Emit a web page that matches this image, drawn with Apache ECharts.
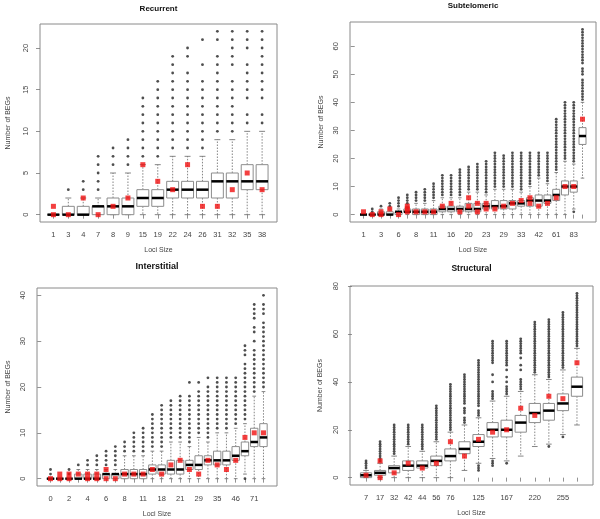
<!DOCTYPE html>
<html><head><meta charset="utf-8">
<script src="https://cdn.jsdelivr.net/npm/echarts@6/dist/echarts.min.js"></script>
<style>html,body{margin:0;padding:0;background:#fff}#c{width:600px;height:519px}</style>
</head><body><div id="c"></div>
<script>
// ---------- Recurrent ----------
const recCats = ['1','3','4','7','8','9','15','19','22','24','26','31','32','35','38'];
const recXLabels = ['1','3','4','7','8','9','15','19','22','24','26','31','32','35','38'];
const recYTicks = [0,5,10,15,20];
// [lower whisker, Q1, median, Q3, upper whisker]
const recStats = [[0,0,0,0,0],[0,0,0,1,2],[0,0,0,1,2],[0,0,1,1,2],[0,0,1,2,5],[0,0,1,2,5],[0,1,2,3,6],[0,1,2,3,6],
  [0,2,3,4,7],[0,2,3,4,7],[0,2,3,4,7],[0,2,4,5,9],[0,2,4,5,9],[0,3,4,6,10],[0,3,4,6,10]];
const recOut = [[],[3],[3,4],[3,4,5,6,7],[6,7,8],[6,7,8,9],[7,8,9,10,11,12,13,14],[7,8,9,10,11,12,13,14,15,16],
  [8,9,10,11,12,13,14,15,16,17,18,19],[8,9,10,11,12,13,14,15,16,17,19,20],[8,9,10,11,12,13,14,15,16,18,21],
  [10,11,12,13,14,15,16,17,18,19,21,22],[10,11,12,13,14,15,16,18,19,20,21,22],[11,12,14,15,16,17,18,20,21,22],
  [11,12,14,15,16,17,18,19,20,21,22]];
const recRed = [[0,1],[0],[2],[0],[1],[2],[6],[4],[3],[6],[1],[1],[3],[5],[3]];

// ---------- Subtelomeric ----------
const subCats = ['1','2','3','5','6','7','8','9','11','13','16','18','20','22','23','26','29','31','33','38','42','50','61','70','83','105'];
const subXLabels = ['1','3','6','8','11','16','20','23','29','33','42','61','83'];
const subYTicks = [0,10,20,30,40,50,60];
const subStats = [[0,0,0,0,0],[0,0,0,0,0],[0,0,0,1,2],[0,0,0,1,2],[0,0,1,1,2],[0,1,1,2,3],[0,0,1,2,4],[0,0,1,2,4],
  [0,0,1,2,5],[0,1,2,3,6],[0,1,2,3,6],[0,1,2,3,6],[0,1,2,4,8],[0,1,2,4,8],[0,2,3,4,7],[0,2,3,5,9],[0,2,3,5,9],
  [0,2,4,5,9],[0,3,4,5,8],[0,3,5,6,10],[0,3,5,7,13],[0,4,5,7,11],[0,5,7,9,15],[0,7,10,12,19],[2,8,10,12,18],[13,25,28,31,40]];
const subOut = [[],[1,2],[3],[3,4],[3,4,5,6],[4,5,6,7],[5,6,7,8],[5,6,7,8,9],[6,7,8,9,10,11],
  [7,8,9,10,11,12,13,14],[7,8,9,10,11,12,13,14],[7,8,9,10,11,12,13,14,15,16],[9,10,11,12,13,14,15,16,17],
  [9,10,11,12,13,14,15,16,17,18],[8,9,10,11,12,13,14,15,16,17,18,19],[10,11,12,13,14,15,16,17,18,19,20,21,22],
  [10,11,12,13,14,15,16,17,18,19,20,21],[10,11,12,13,14,15,16,17,18,19,20,21,22],[9,10,11,12,13,14,15,16,17,18,19,20,21,22],
  [11,12,13,14,15,16,17,18,19,20,21,22],[14,15,16,17,18,19,20,21,22],[12,13,14,15,16,17,18,19,20,21,22],
  [16,17,18,19,20,21,22,23,24,25,26,27,28,29,30,31,32,33,34],
  [20,21,22,23,24,25,26,27,28,29,30,31,32,33,34,35,36,37,38,39,40],
  [1,19,20,21,22,23,24,25,26,27,28,29,30,31,32,33,34,35,36,37,38,39,40],
  [41,42,43,44,45,46,47,48,50,51,52,54,55,56,57,58,59,60,61,62,63,64,65,66]];
const subRed = [[1],[0],[0,1],[2],[0],[1,2,3],[1],[1],[1],[3],[4],[1],[6,3],[4,1],[4,2],[2],[3],[4],[5],[6,4],[3],[4],[6],[10],[10],[34]];

// ---------- Interstitial ----------
const intCats = ['0','1','2','3','4','5','6','7','8','10','11','14','18','19','21','25','29','32','35','40','46','55','71','95'];
const intXLabels = ['0','2','4','6','8','11','18','21','29','35','46','71'];
const intYTicks = [0,10,20,30,40];
const intStats = [[0,0,0,0,0],[0,0,0,0,0],[0,0,0,0,0],[0,0,0,1,2],[0,0,0,1,2],[0,0,0,1,2],[0,0,1,1,2],[0,0,1,1,2],
  [0,0,1,2,5],[0,0,1,2,5],[0,0,1,2,5],[0,1,2,3,6],[0,1,2,3,6],[0,1,2,4,8],[0,1,2,4,8],[0,2,3,4,7],[0,2,3,5,9],
  [0,3,4,5,8],[0,3,4,6,10],[0,3,4,6,10],[0,4,5,7,11],[1,5,6,8,12],[0,7,8,11,18],[0,7,9,12,19]];
const intOut = [[1,2],[],[1,2],[3],[3,4],[3,4,5],[3,4,5,6],[3,4,5,6,7],[6,7,8],[6,7,8,9,10],[6,7,8,9,10,11],
  [7,8,9,10,11,12,13,14],[7,8,9,10,11,12,13,14,15,16],[9,10,11,12,13,14,15,16,17],[9,10,11,12,13,14,15,16,17,18],
  [8,9,10,11,12,13,14,15,16,17,18,21],[10,11,12,13,14,15,16,17,18,19,21],[9,10,11,12,13,14,15,16,17,18,19,20,22],
  [11,12,13,14,15,16,17,18,19,20,21,22],[11,12,13,14,15,16,17,18,19,20,21,22],[12,13,14,15,16,17,18,19,20,21,22],
  [0,13,14,15,16,17,18,19,20,21,22,23,24,25,27,28,29],
  [19,20,21,22,23,24,25,26,27,28,30,32,33,35,36,37,38],
  [20,21,22,23,24,25,26,27,28,29,30,31,32,33,34,36,37,38,40]];
const intRed = [[0],[1,0],[1,0],[1],[1,0],[1,0],[2,0],[0],[1],[1],[1],[2],[1],[3],[4],[2],[1],[4],[3],[2],[4],[9],[10],[10]];

// ---------- Structural ----------
const strCats = ['7','17','32','42','44','56','76','101','125','146','167','190','220','236','255','300'];
const strXLabels = ['7','17','32','42','44','56','76','125','167','220','255'];
const strYTicks = [0,20,40,60,80];
const strStats = [[0,0,1,2,3],[0,1,2,3,6],[0,2,4,5,9],[0,3,5,7,13],[0,4,5,7,11],[0,5,7,9,15],[0,7,9,12,19],
  [3,10,12,15,22],[6,13,15,18,25],[8,17,20,23,32],[7,17,20,24,34],[9,19,23,26,36],[13,23,27,31,43],
  [14,24,28,31,41],[18,28,31,35,45],[22,34,38,42,54]];
const strOut = [[4,5,6,7],[7,8,9,10,11,12,13,14,15],[10,11,12,13,14,15,16,17,18,19,20,21,22],
  [14,15,16,17,18,19,20,21,22],[12,13,14,15,16,17,18,19,20,21,22],
  [16,17,18,19,20,21,22,23,24,25,26,27,28,29,30],
  [20,21,22,23,24,25,26,27,28,29,30,31,32,33,34,35,36,37,38,39],
  [23,24,25,27,28,29,31,32,33,34,35,36,37,38,39,40,41,42,43],
  [3,4,5,26,27,28,30,31,32,33,34,35,36,37,38,39,40,41,42,43,44,45,46,47,48,49],
  [5,6,7,33,34,35,36,40,43,48,49,50,51,52,53,54,55,56,57],
  [6,35,36,37,38,40,42,45,47,48,49,50,51,52,53,54,55,56,57],
  [37,38,39,40,41,45,47,50,52,53,54,55,56,57,58],
  [44,45,46,47,48,49,50,51,52,53,54,55,56,57,58,59,60,61,62,63,64,65],
  [13,42,43,44,45,46,47,48,49,50,51,52,53,54,55,56,57,58,59,60,61,62,63,64,65,66],
  [17,46,47,48,49,50,51,52,53,54,55,56,57,58,59,60,61,62,63,64,65,66,67,68,69],
  [55,56,57,58,59,60,61,62,63,64,65,66,67,68,69,70,71,72,73,74,75,76,77]];
const strRed = [[1],[7,0],[2],[6],[4],[6],[15],[9],[16],[19],[20],[29],[26],[34],[33],[48]];

// ---------- layout ----------
const FONT = '"Liberation Sans", Arial, Helvetica, sans-serif';
const panels = [
  {title:'Recurrent', cats:recCats, stats:recStats, out:recOut, red:recRed, yTicks:recYTicks, xLabels:recXLabels,
   box:{left:40, top:24, width:237, height:198}, pad:[0.9,1.0], tSize:8, tY:9, yGap:28},
  {title:'Subtelomeric', cats:subCats, stats:subStats, out:subOut, red:subRed, yTicks:subYTicks, xLabels:subXLabels,
   box:{left:350, top:22, width:246, height:200}, pad:null, tSize:8, tY:6, yGap:25},
  {title:'Interstitial', cats:intCats, stats:intStats, out:intOut, red:intRed, yTicks:intYTicks, xLabels:intXLabels,
   box:{left:37, top:288, width:240, height:198}, pad:null, tSize:9, tY:267, yGap:25},
  {title:'Structural', cats:strCats, stats:strStats, out:strOut, red:strRed, yTicks:strYTicks, xLabels:strXLabels,
   box:{left:350, top:286, width:243, height:199}, pad:null, tSize:8.5, tY:269, yGap:26}
];

function renderBox(params, api) {
  const x = api.value(0);
  const lo = api.coord([x, api.value(1)]);
  const q1 = api.coord([x, api.value(2)]);
  const md = api.coord([x, api.value(3)]);
  const q3 = api.coord([x, api.value(4)]);
  const hi = api.coord([x, api.value(5)]);
  const bw = api.size([0.8, 0])[0];
  const cw = api.size([0.4, 0])[0];
  const cx = md[0];
  const wStyle = {stroke:'#666', lineWidth:0.8, lineDash:[1.5,1.5]};
  const cStyle = {stroke:'#666', lineWidth:0.8};
  return {type:'group', children:[
    {type:'line', shape:{x1:cx, y1:q3[1], x2:cx, y2:hi[1]}, style:wStyle},
    {type:'line', shape:{x1:cx, y1:q1[1], x2:cx, y2:lo[1]}, style:wStyle},
    {type:'line', shape:{x1:cx-cw/2, y1:hi[1], x2:cx+cw/2, y2:hi[1]}, style:cStyle},
    {type:'line', shape:{x1:cx-cw/2, y1:lo[1], x2:cx+cw/2, y2:lo[1]}, style:cStyle},
    {type:'rect', shape:{x:cx-bw/2, y:q3[1], width:bw, height:q1[1]-q3[1]}, style:{fill:'#fff', stroke:'#8c8c8c', lineWidth:1}},
    {type:'line', shape:{x1:cx-bw/2, y1:md[1], x2:cx+bw/2, y2:md[1]}, style:{stroke:'#000', lineWidth:2.5}}
  ]};
}

const grid = [], xAxis = [], yAxis = [], series = [], graphic = [];
panels.forEach((p, gi) => {
  const n = p.cats.length;
  const padL = p.pad ? p.pad[0] : 0.5 + 0.04 * n;
  const padR = p.pad ? p.pad[1] : 0.5 + 0.04 * n;
  let dmin = Infinity, dmax = -Infinity;
  p.stats.forEach(s => { dmin = Math.min(dmin, s[0]); dmax = Math.max(dmax, s[4]); });
  p.out.forEach(l => l.forEach(v => { dmin = Math.min(dmin, v); dmax = Math.max(dmax, v); }));
  p.red.forEach(l => l.forEach(v => { dmin = Math.min(dmin, v); dmax = Math.max(dmax, v); }));
  const ext = (dmax - dmin) * 0.04;
  grid.push(Object.assign({show:true, borderColor:'#8a8a8a', borderWidth:1, backgroundColor:'#fff'}, p.box));
  const tickIdx = p.cats.map((c, i) => i + 1);
  const labelIdx = p.xLabels.map(l => p.cats.indexOf(l) + 1);
  xAxis.push({type:'value', gridIndex:gi, min:1 - padL, max:n + padR,
    name:'Loci Size', nameLocation:'middle', nameGap:25,
    nameTextStyle:{fontSize:7, color:'#444', fontFamily:FONT},
    axisLine:{show:false}, splitLine:{show:false},
    axisTick:{show:true, customValues:tickIdx, length:4, lineStyle:{color:'#777', width:0.8}},
    axisLabel:{customValues:labelIdx, formatter:v => p.cats[Math.round(v) - 1], fontSize:7.5, color:'#444', fontFamily:FONT, margin:9}
  });
  yAxis.push({type:'value', gridIndex:gi, min:dmin - ext, max:dmax + ext,
    name:'Number of BEGs', nameLocation:'middle', nameGap:p.yGap,
    nameTextStyle:{fontSize:7, color:'#444', fontFamily:FONT},
    axisLine:{show:false}, splitLine:{show:false},
    axisTick:{show:true, customValues:p.yTicks, length:4, lineStyle:{color:'#777', width:0.8}},
    axisLabel:{customValues:p.yTicks, rotate:90, fontSize:7.5, color:'#444', fontFamily:FONT, margin:10}
  });
  series.push({type:'custom', xAxisIndex:gi, yAxisIndex:gi, renderItem:renderBox, z:2,
    encode:{x:0, y:[1,2,3,4,5]},
    data:p.stats.map((s, i) => [i + 1, s[0], s[1], s[2], s[3], s[4]])});
  const outData = [];
  p.out.forEach((l, i) => l.forEach(v => outData.push([i + 1, v])));
  series.push({type:'scatter', xAxisIndex:gi, yAxisIndex:gi, z:3, symbol:'circle', symbolSize:2.8,
    itemStyle:{color:'#222'}, silent:true, data:outData});
  const redData = [];
  p.red.forEach((l, i) => l.forEach(v => redData.push([i + 1, v])));
  series.push({type:'scatter', xAxisIndex:gi, yAxisIndex:gi, z:4, symbol:'rect', symbolSize:5,
    itemStyle:{color:'#f01010'}, silent:true, data:redData});
  graphic.push({type:'text', x:p.box.left + p.box.width / 2, y:p.tY, z:10,
    style:{text:p.title, font:'bold ' + p.tSize + 'px ' + FONT, fill:'#111', align:'center', verticalAlign:'middle'}});
});

const chart = echarts.init(document.getElementById('c'), null, {renderer:'canvas'});
chart.setOption({animation:false, backgroundColor:'#fff', grid, xAxis, yAxis, series, graphic});
</script></body></html>
